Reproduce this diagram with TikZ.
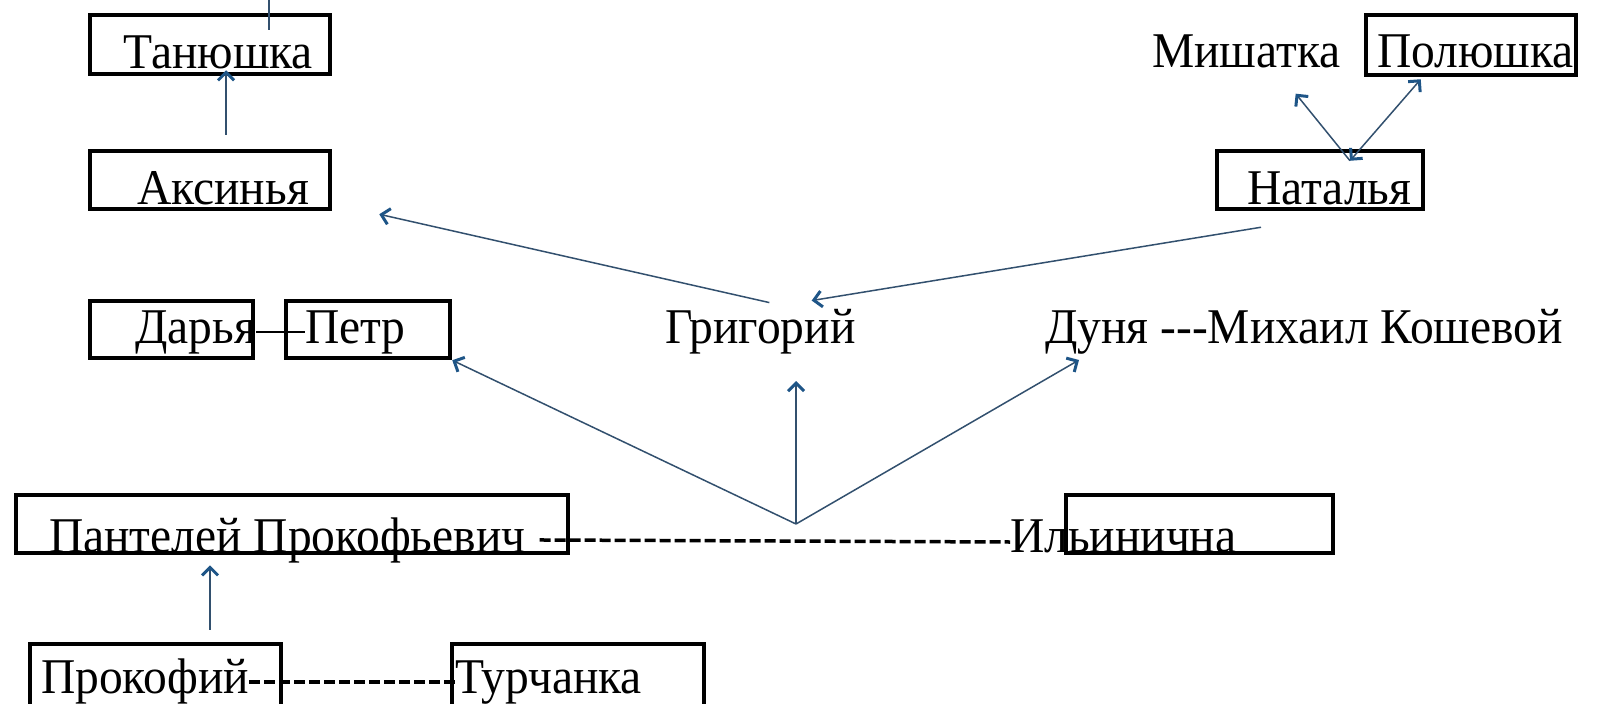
\documentclass[tikz,border=0pt]{standalone}
\usepackage{fontspec}
\setmainfont{Liberation Serif}[FakeStretch=0.95,Ligatures=TeXOff]
\usetikzlibrary{arrows.meta,calc}
\definecolor{r50g80b110}{RGB}{50,80,110}
\definecolor{r30g85b135}{RGB}{30,85,135}
\begin{document}
\begin{tikzpicture}[x=1pt,y=-1pt,
  box/.style={draw,line width=4.5pt,rectangle,inner sep=0pt},
  person/.style={inner sep=0pt,anchor=base west,font=\fontsize{50}{56}\selectfont},
  conn/.style={draw=r50g80b110,line width=1.5pt},
  arr/.style={conn,-{Straight Barb[length=8pt,width=16pt,line width=3pt,color=r30g85b135]}},
  arrtwo/.style={conn,{Straight Barb[length=8pt,width=16pt,line width=3pt,color=r30g85b135]}-{Straight Barb[length=8pt,width=16pt,line width=3pt,color=r30g85b135]}},
  link/.style={line width=3.5pt,dash pattern=on 11pt off 4pt}]
\useasboundingbox (0,0) rectangle (1604,704);%

% Drawing boxes
\node [box,minimum width=240pt,minimum height=59pt] (tanbox) at (210,44.5) {};%
\node [box,minimum width=240pt,minimum height=58pt] (aksbox) at (210,180) {};%
\node [box,minimum width=163pt,minimum height=57pt] (darbox) at (171.5,329.5) {};%
\node [box,minimum width=164pt,minimum height=57pt] (petrbox) at (368,329.5) {};%
\node [box,minimum width=210pt,minimum height=60pt] (polbox) at (1471,45) {};%
\node [box,minimum width=206pt,minimum height=58pt] (natbox) at (1320,180) {};%
\node [box,minimum width=552pt,minimum height=58pt] (panbox) at (292,524) {};%
\node [box,minimum width=267pt,minimum height=58pt] (ilbox) at (1199.5,524) {};%
\node [box,minimum width=251pt,minimum height=62pt] (prokbox) at (155.5,675) {};%
\node [box,minimum width=252pt,minimum height=62pt] (turbox) at (578,675) {};%

% Drawing names
\node [person] (tan) at (123,68) {Танюшка};%
\node [person] (aks) at (137,204) {Аксинья};%
\node [person] (dar) at (135,343) {Дарья};%
\node [person] (petr) at (305,343) {Петр};%
\node [person] (gri) at (665,343) {Григорий};%
\node [person] (dun) at (1045,343) {Дуня ---Михаил Кошевой};%
\node [person] (mish) at (1152,67) {Мишатка};%
\node [person] (pol) at (1377,67) {Полюшка};%
\node [person] (nat) at (1247,204) {Наталья};%
\node [person] (pan) at (49,552) {Пантелей Прокофьевич};%
\node [person] (il) at (1010,552) {Ильинична};%
\node [person] (prok) at (41,693) {Прокофий};%
\node [person] (tur) at (455,693) {Турчанка};%
\coordinate (hub) at (796,524);%
\coordinate (topend) at (269,-5);%

% Drawing links
\draw [line width=1.5pt] (dar.east |- 0,332) -- (petr.west |- 0,332);%
\draw [link] ($(pan.east)+(14,0)$ |- 0,542) -- (il.west |- 0,542);%
\draw [link] (prok.east |- 0,682) -- (tur.west |- 0,682);%

% Drawing arrows
\draw [conn] ($(tanbox.north)+(59,17)$) -- (topend);%
\draw [arr] ($(aksbox.north)+(16,-14)$) -- ($(tanbox.south)+(16,-6)$);%
\draw [arr] ($(gri.north)+(9,-6)$) -- ($(aksbox.south east)+(47,3)$);%
\draw [arr] ($(natbox.south)+(-59,16)$) -- ($(gri.north east)+(-44,-8)$);%
\draw [arr] ($(natbox.north)+(30,12)$) -- ($(mish.south east)+(-45,26)$);%
\draw [arrtwo] ($(natbox.north)+(30,12)$) -- ($(polbox.south west)+(57,2)$);%
\draw [arr] (hub) -- (petrbox.south east);%
\draw [arr] (hub) -- (hub |- 0,381);%
\draw [arr] (hub) -- ($(dun.south west)+(34,6)$);%
\draw [arr] ($(prokbox.north)+(54.5,-12)$) -- ($(panbox.south)+(-82,10)$);%
\end{tikzpicture}
\end{document}
